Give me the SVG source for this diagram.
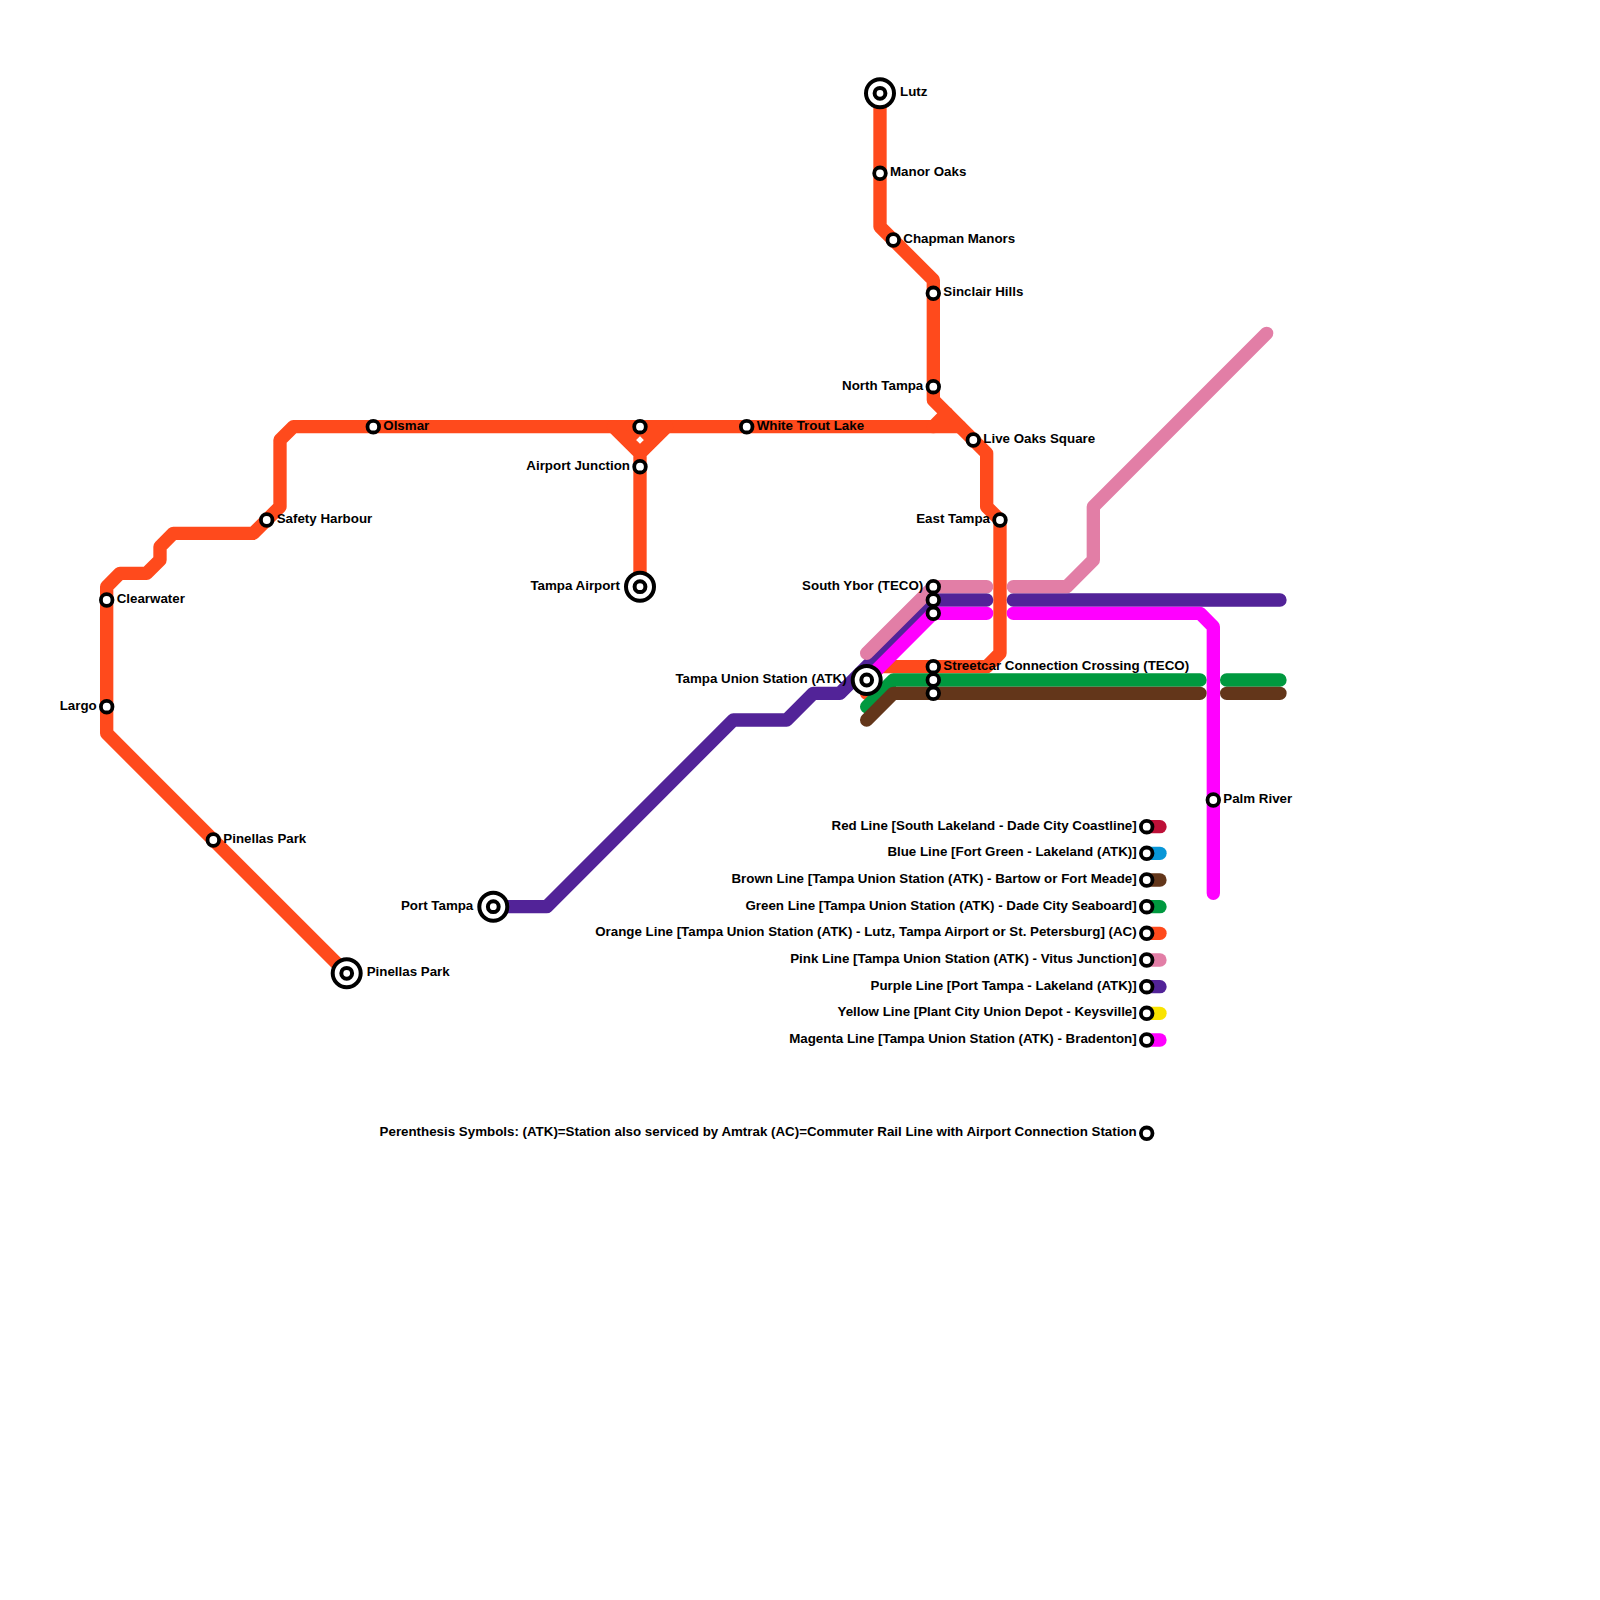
<svg xmlns="http://www.w3.org/2000/svg" width="1600" height="1600" viewBox="0 0 1600 1600">
<style>
.l{fill:none;stroke-width:1;stroke-linecap:round;stroke-linejoin:round}
.or{stroke:#ff4a1c}.pu{stroke:#522398}.pi{stroke:#e27ea6}.ma{stroke:#ff00ff}.gr{stroke:#00993f}.br{stroke:#63361a}.re{stroke:#bd1038}.bl{stroke:#0896d7}.ye{stroke:#f9e300}
.s{fill:#fff;stroke:#000;stroke-width:3.8}
.t{stroke-width:4}
text{font-family:"Liberation Sans",Arial,sans-serif;font-weight:bold;font-size:13.33px;fill:#000}
.e{text-anchor:end}
</style>
<defs>
<circle id="st" class="s" r="5.8"/>
<g id="tm"><circle class="s t" r="14"/><circle class="s t" r="5.4"/></g>
</defs>
<rect width="1600" height="1600" fill="#fff"/>
<g id="connectors" transform="scale(13.3333)">
<path class="l or" d="M66 7V17L70 21V30L74 34V38L75 39V49L74 50H66L65 51V52"/>
<path class="l or" d="M26 73L8 55V44L9 43H11L12 42V41L13 40H19L21 38V33L22 32H70L71 31"/>
<path class="l or" d="M70 32H72"/>
<path class="l or" d="M46 32L48 34V44M50 32L48 34M47 33L48 32L49 33"/>
<path class="l pu" d="M37 68H41L55 54H59L61 52H63L70 45H74M76 45H96"/>
<path class="l pi" d="M65 49L70 44H74M76 44H80L82 42V38L95 25"/>
<path class="l ma" d="M65 51L70 46H74M76 46H90L91 47V67"/>
<path class="l gr" d="M65 53L67 51H90M92 51H96"/>
<path class="l br" d="M65 54L67 52H90M92 52H96"/>
<path class="l re" d="M86 62H87"/>
<path class="l bl" d="M86 64H87"/>
<path class="l br" d="M86 66H87"/>
<path class="l gr" d="M86 68H87"/>
<path class="l or" d="M86 70H87"/>
<path class="l pi" d="M86 72H87"/>
<path class="l pu" d="M86 74H87"/>
<path class="l ye" d="M86 76H87"/>
<path class="l ma" d="M86 78H87"/>
</g>
<g id="lutz"><use href="#tm" x="880" y="93.3"/><text x="900" y="96.3">Lutz</text></g>
<g id="manor-oaks"><use href="#st" x="880" y="173.3"/><text x="890" y="176.3">Manor Oaks</text></g>
<g id="chapman-manors"><use href="#st" x="893.3" y="240"/><text x="903.3" y="243">Chapman Manors</text></g>
<g id="sinclair-hills"><use href="#st" x="933.3" y="293.3"/><text x="943.3" y="296.3">Sinclair Hills</text></g>
<g id="north-tampa"><use href="#st" x="933.3" y="386.7"/><text class="e" x="923.3" y="389.7">North Tampa</text></g>
<g id="live-oaks-square"><use href="#st" x="973.3" y="440"/><text x="983.3" y="443">Live Oaks Square</text></g>
<g id="east-tampa"><use href="#st" x="1000" y="520"/><text class="e" x="990" y="523">East Tampa</text></g>
<g id="white-trout-lake"><use href="#st" x="746.7" y="426.7"/><text x="756.7" y="429.7">White Trout Lake</text></g>
<g id="olsmar"><use href="#st" x="373.3" y="426.7"/><text x="383.3" y="429.7">Olsmar</text></g>
<g id="airport-top"><use href="#st" x="640" y="426.7"/></g>
<g id="airport-junction"><use href="#st" x="640" y="466.7"/><text class="e" x="630" y="469.7">Airport Junction</text></g>
<g id="tampa-airport"><use href="#tm" x="640" y="586.7"/><text class="e" x="620" y="589.7">Tampa Airport</text></g>
<g id="safety-harbour"><use href="#st" x="266.7" y="520"/><text x="276.7" y="523">Safety Harbour</text></g>
<g id="clearwater"><use href="#st" x="106.7" y="600"/><text x="116.7" y="603">Clearwater</text></g>
<g id="largo"><use href="#st" x="106.7" y="706.7"/><text class="e" x="96.7" y="709.7">Largo</text></g>
<g id="pinellas-park-1"><use href="#st" x="213.3" y="840"/><text x="223.3" y="843">Pinellas Park</text></g>
<g id="pinellas-park-2"><use href="#tm" x="346.7" y="973.3"/><text x="366.7" y="976.3">Pinellas Park</text></g>
<g id="port-tampa"><use href="#tm" x="493.3" y="906.7"/><text class="e" x="473.3" y="909.7">Port Tampa</text></g>
<g id="tampa-union"><use href="#tm" x="866.7" y="680"/><text class="e" x="846.7" y="683">Tampa Union Station (ATK)</text></g>
<g id="south-ybor"><use href="#st" x="933.3" y="586.7"/><text class="e" x="923.3" y="589.7">South Ybor (TECO)</text></g>
<g id="ybor-2"><use href="#st" x="933.3" y="600"/></g>
<g id="ybor-3"><use href="#st" x="933.3" y="613.3"/></g>
<g id="streetcar"><use href="#st" x="933.3" y="666.7"/><text x="943.3" y="669.7">Streetcar Connection Crossing (TECO)</text></g>
<g id="streetcar-2"><use href="#st" x="933.3" y="680"/></g>
<g id="streetcar-3"><use href="#st" x="933.3" y="693.3"/></g>
<g id="palm-river"><use href="#st" x="1213.3" y="800"/><text x="1223.3" y="803">Palm River</text></g>
<g id="legend-red"><use href="#st" x="1146.7" y="826.7"/><text class="e" x="1136.7" y="829.7">Red Line [South Lakeland - Dade City Coastline]</text></g>
<g id="legend-blue"><use href="#st" x="1146.7" y="853.3"/><text class="e" x="1136.7" y="856.3">Blue Line [Fort Green - Lakeland (ATK)]</text></g>
<g id="legend-brown"><use href="#st" x="1146.7" y="880"/><text class="e" x="1136.7" y="883">Brown Line [Tampa Union Station (ATK) - Bartow or Fort Meade]</text></g>
<g id="legend-green"><use href="#st" x="1146.7" y="906.7"/><text class="e" x="1136.7" y="909.7">Green Line [Tampa Union Station (ATK) - Dade City Seaboard]</text></g>
<g id="legend-orange"><use href="#st" x="1146.7" y="933.3"/><text class="e" x="1136.7" y="936.3">Orange Line [Tampa Union Station (ATK) - Lutz, Tampa Airport or St. Petersburg] (AC)</text></g>
<g id="legend-pink"><use href="#st" x="1146.7" y="960"/><text class="e" x="1136.7" y="963">Pink Line [Tampa Union Station (ATK) - Vitus Junction]</text></g>
<g id="legend-purple"><use href="#st" x="1146.7" y="986.7"/><text class="e" x="1136.7" y="989.7">Purple Line [Port Tampa - Lakeland (ATK)]</text></g>
<g id="legend-yellow"><use href="#st" x="1146.7" y="1013.3"/><text class="e" x="1136.7" y="1016.3">Yellow Line [Plant City Union Depot - Keysville]</text></g>
<g id="legend-magenta"><use href="#st" x="1146.7" y="1040"/><text class="e" x="1136.7" y="1043">Magenta Line [Tampa Union Station (ATK) - Bradenton]</text></g>
<g id="legend-note"><use href="#st" x="1146.7" y="1133.3"/><text class="e" x="1136.7" y="1136.3">Perenthesis Symbols: (ATK)=Station also serviced by Amtrak (AC)=Commuter Rail Line with Airport Connection Station</text></g>
</svg>
